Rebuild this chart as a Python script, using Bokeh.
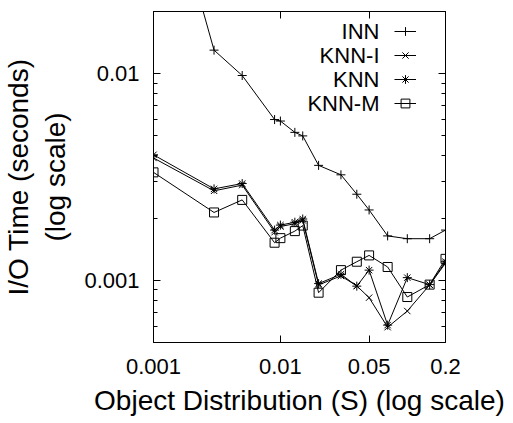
from bokeh.plotting import figure
from bokeh.models import (Range1d, FixedTicker, LogAxis, Legend, LegendItem, Label,
                          CustomLabelingPolicy)
from bokeh.embed import file_html
from bokeh.resources import INLINE

# ---- data ----
s_values = [0.001, 0.003, 0.005, 0.009, 0.01, 0.013, 0.015, 0.02, 0.03, 0.04, 0.05, 0.07, 0.1, 0.15, 0.2]
inn = [0.144, 0.0130, 0.0098, 0.0060, 0.0059, 0.0052, 0.0050, 0.0036, 0.00324, 0.00261, 0.00219, 0.00164, 0.00159, 0.00159, 0.00175]
knn_i = [0.00391, 0.00271, 0.00289, 0.00171, 0.00182, 0.00188, 0.00195, 0.00095, 0.00105, 0.00094, 0.000824, 0.000593, 0.00071, 0.00095, 0.00121]
knn = [0.00405, 0.00277, 0.00294, 0.00175, 0.00185, 0.00191, 0.00198, 0.000964, 0.00107, 0.000937, 0.00112, 0.000607, 0.00103, 0.000953, 0.00123]
knn_m = [0.00333, 0.00213, 0.00245, 0.00152, 0.00160, 0.00173, 0.00184, 0.000871, 0.00112, 0.00123, 0.00132, 0.00116, 0.00083, 0.000953, 0.00127]

series_names = ["INN", "KNN-I", "KNN", "KNN-M"]
series_values = [inn, knn_i, knn, knn_m]
series_markers = ["cross", "x", "asterisk", "square"]

x_ticks = [0.001, 0.01, 0.05, 0.2]
x_tick_labels = ["0.001", "0.01", "0.05", "0.2"]
y_ticks = [0.001, 0.01]
y_tick_labels = ["0.001", "0.01"]
y_minor = [0.0005, 0.0006, 0.0007, 0.0008, 0.0009,
           0.002, 0.003, 0.004, 0.005, 0.006, 0.007, 0.008, 0.009, 0.02]

FONT = "Liberation Sans"
FW, FH = 292, 331

p = figure(x_axis_type="log", y_axis_type="log",
           x_range=Range1d(0.001, 0.2), y_range=Range1d(0.0005, 0.02),
           frame_width=FW, frame_height=FH,
           min_border_left=145, min_border_top=5, min_border_right=60, min_border_bottom=70,
           output_backend="svg", toolbar_location=None)
p.grid.visible = False
p.outline_line_color = "black"
p.outline_line_width = 1
p.background_fill_color = "white"

xt = FixedTicker(ticks=x_ticks, minor_ticks=[])
yt = FixedTicker(ticks=y_ticks, minor_ticks=y_minor)

def style_axis(ax, ticker, overrides, show_labels):
    ax.ticker = ticker
    ax.axis_line_color = "black"
    ax.major_tick_line_color = "black"
    ax.minor_tick_line_color = "black"
    ax.major_tick_in = 7
    ax.major_tick_out = 0
    ax.minor_tick_in = 4
    ax.minor_tick_out = 0
    if show_labels:
        ax.major_label_overrides = dict(zip(ticker.ticks, overrides))
        ax.major_label_text_font = FONT
        ax.major_label_text_font_size = "22px"
        ax.major_label_text_color = "black"
        ax.axis_label_text_font = FONT
        ax.axis_label_text_font_size = "28px"
        ax.axis_label_text_font_style = "normal"
        ax.axis_label_text_color = "black"
    else:
        ax.major_label_policy = CustomLabelingPolicy(code="return []")
        ax.major_label_standoff = 0

xa = p.xaxis[0]
ya = p.yaxis[0]
style_axis(xa, xt, x_tick_labels, True)
style_axis(ya, yt, y_tick_labels, True)
xa.axis_label = "Object Distribution (S) (log scale)"
ya.axis_label = "I/O Time (seconds)\n(log scale)"
xa.major_label_standoff = 16
xa.axis_label_standoff = 8
ya.major_label_standoff = 14
ya.axis_label_standoff = 10

top = LogAxis()
style_axis(top, xt, None, False)
right = LogAxis()
style_axis(right, yt, None, False)
p.add_layout(top, "above")
p.add_layout(right, "right")

items = []
for name, vals, mk in zip(series_names, series_values, series_markers):
    lr = p.line(s_values, vals, line_color="black", line_width=1)
    sr = p.scatter(s_values, vals, marker=mk, size=9, line_color="black",
                   fill_color=None, line_width=1)
    items.append(LegendItem(label=" ", renderers=[lr, sr]))

ROW = 24
leg_left = 241
leg_top = FH - 8
legend = Legend(items=items, location=(leg_left, leg_top - len(items) * ROW),
                glyph_width=22, glyph_height=ROW, label_height=ROW,
                label_width=0, label_standoff=0, spacing=0, padding=0, margin=0,
                label_text_font_size="10px",
                border_line_color=None, background_fill_alpha=0)
p.add_layout(legend, "center")

for i, name in enumerate(series_names):
    p.add_layout(Label(x=leg_left - 15, y=leg_top - ROW / 2 - i * ROW,
                       x_units="screen", y_units="screen", text=name,
                       text_align="right", text_baseline="middle",
                       text_font=FONT, text_font_size="22px", text_color="black"))

open("out.html", "w").write(file_html(p, INLINE))
